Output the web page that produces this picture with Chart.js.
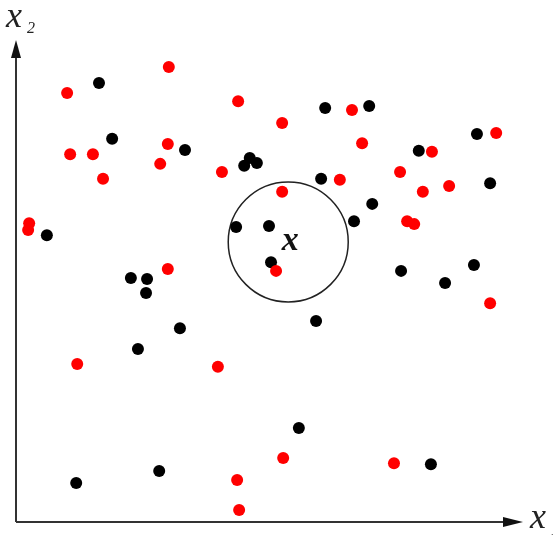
<!DOCTYPE html>
<html>
<head>
<meta charset="utf-8">
<script src="https://cdn.jsdelivr.net/npm/chart.js@4"></script>
<style>
    html, body { margin: 0; padding: 0; background: #fff; }
    canvas { display: block; }
</style>
</head>
<body>
<canvas id="knnChart" width="553" height="536"></canvas>
<script>
// class A (red) samples, x1 / x2
const redX1 = [3.02, 1.01, 4.39, 5.26, 1.07, 1.52, 3.00, 2.85, 1.72, 4.07, 5.26, 0.26, 0.24, 3.00, 6.64, 9.49,
               6.84, 8.22, 6.40, 7.59, 8.04, 8.56, 7.73, 7.87, 5.14, 1.21, 3.99, 4.37, 4.41, 5.28, 9.37, 7.47];
const redX2 = [9.44, 8.90, 8.73, 8.28, 7.63, 7.63, 7.84, 7.43, 7.12, 7.26, 6.85, 6.20, 6.06, 5.25, 8.55, 8.07,
               7.86, 7.68, 7.10, 7.26, 6.85, 6.97, 6.24, 6.18, 5.21, 3.28, 3.22, 0.87, 0.25, 1.33, 4.54, 1.22];

// class B (black) samples
const blackX1 = [1.64, 1.90, 3.34, 4.62, 4.76, 4.51, 0.61, 4.35, 5.00, 5.04, 6.11, 6.98, 9.11, 7.96, 6.03, 9.37,
                 7.04, 6.68, 9.05, 7.61, 2.27, 2.59, 2.57, 3.24, 2.41, 2.83, 1.19, 8.48, 5.93, 5.59, 8.20];
const blackX2 = [9.11, 7.95, 7.72, 7.55, 7.45, 7.39, 5.95, 6.12, 6.14, 5.39, 8.59, 8.63, 8.05, 7.70, 7.12, 7.03,
                 6.60, 6.24, 5.33, 5.21, 5.06, 5.04, 4.75, 4.02, 3.59, 1.06, 0.81, 4.96, 4.17, 1.95, 1.20];

// query point x and its neighbourhood
const queryX1 = [5.38];
const queryX2 = [5.81];

const toPoints = (xs, ys) => xs.map((v, i) => ({ x: v, y: ys[i] }));

// axes with arrows + italic labels
const axesPlugin = {
    id: 'axesPlugin',
    afterDatasetsDraw(chart) {
        const ctx = chart.ctx;
        const a = chart.chartArea;
        const left = a.left, bottom = a.bottom;

        ctx.save();
        ctx.strokeStyle = '#333';
        ctx.fillStyle = '#111';
        ctx.lineWidth = 2;

        // y axis
        ctx.beginPath();
        ctx.moveTo(left, bottom);
        ctx.lineTo(left, a.top + 10);
        ctx.stroke();
        ctx.beginPath();
        ctx.moveTo(left, a.top);
        ctx.lineTo(left - 5, a.top + 18);
        ctx.lineTo(left + 5, a.top + 18);
        ctx.closePath();
        ctx.fill();

        // x axis
        ctx.beginPath();
        ctx.moveTo(left, bottom);
        ctx.lineTo(a.right - 10, bottom);
        ctx.stroke();
        ctx.beginPath();
        ctx.moveTo(a.right + 1, bottom);
        ctx.lineTo(a.right - 19, bottom - 5);
        ctx.lineTo(a.right - 19, bottom + 5);
        ctx.closePath();
        ctx.fill();

        ctx.fillStyle = '#222';
        ctx.textAlign = 'left';
        ctx.textBaseline = 'alphabetic';

        // x2 label
        ctx.font = 'italic 36px "Liberation Serif", serif';
        ctx.fillText('x', left - 10, a.top - 13);
        ctx.font = 'italic 16px "Liberation Serif", serif';
        ctx.fillText('2', left + 11, a.top - 7);

        // x1 label
        ctx.font = 'italic 36px "Liberation Serif", serif';
        ctx.fillText('x', a.right + 8, bottom + 6);
        ctx.font = 'italic 16px "Liberation Serif", serif';
        ctx.fillText('1', a.right + 29, bottom + 13);

        // query label
        const qx = chart.scales.x.getPixelForValue(queryX1[0]);
        const qy = chart.scales.y.getPixelForValue(queryX2[0]);
        ctx.fillStyle = '#111';
        ctx.textAlign = 'center';
        ctx.font = 'italic bold 34px "Liberation Serif", serif';
        ctx.fillText('x', qx + 2, qy + 8);
        ctx.restore();
    }
};

const ctx = document.getElementById('knnChart').getContext('2d');
new Chart(ctx, {
    type: 'scatter',
    data: {
        datasets: [
            {
                label: 'red',
                data: toPoints(redX1, redX2),
                pointRadius: 6,
                pointBackgroundColor: '#ff0000',
                pointBorderWidth: 0
            },
            {
                label: 'black',
                data: toPoints(blackX1, blackX2),
                pointRadius: 6,
                pointBackgroundColor: '#000000',
                pointBorderWidth: 0
            },
            {
                label: 'neighbourhood',
                data: toPoints(queryX1, queryX2),
                pointRadius: 60,
                pointBackgroundColor: 'rgba(0,0,0,0)',
                pointBorderColor: '#222',
                pointBorderWidth: 1.5
            }
        ]
    },
    options: {
        responsive: false,
        animation: false,
        events: [],
        layout: { autoPadding: false, padding: { left: 16, right: 31, top: 40, bottom: 14 } },
        plugins: {
            legend: { display: false },
            tooltip: { enabled: false }
        },
        scales: {
            x: { type: 'linear', display: false, min: 0, max: 10 },
            y: { type: 'linear', display: false, min: 0, max: 10 }
        },
        elements: { point: { hoverRadius: 6 } },
        clip: false
    },
    plugins: [axesPlugin]
});
</script>
</body>
</html>
